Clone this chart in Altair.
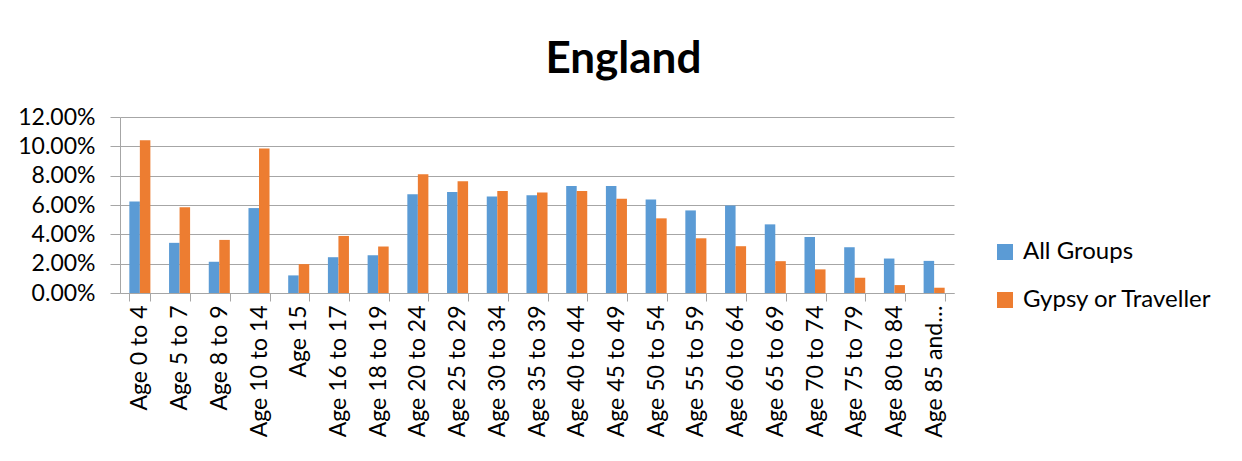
import altair as alt
import pandas as pd

categories = ["Age 0 to 4", "Age 5 to 7", "Age 8 to 9", "Age 10 to 14", "Age 15",
              "Age 16 to 17", "Age 18 to 19", "Age 20 to 24", "Age 25 to 29", "Age 30 to 34",
              "Age 35 to 39", "Age 40 to 44", "Age 45 to 49", "Age 50 to 54", "Age 55 to 59",
              "Age 60 to 64", "Age 65 to 69", "Age 70 to 74", "Age 75 to 79", "Age 80 to 84",
              "Age 85 and…"]
all_groups = [6.24, 3.42, 2.13, 5.79, 1.20, 2.44, 2.58, 6.74, 6.88, 6.58,
              6.67, 7.29, 7.29, 6.38, 5.63, 5.97, 4.68, 3.82, 3.12, 2.35, 2.19]
gypsy = [10.41, 5.84, 3.62, 9.86, 1.97, 3.89, 3.17, 8.10, 7.62, 6.95,
         6.86, 6.95, 6.43, 5.09, 3.73, 3.19, 2.17, 1.61, 1.04, 0.54, 0.36]
series = ["All Groups", "Gypsy or Traveller"]
colors = ["#5B9BD5", "#ED7D31"]
y_ticks = [0, 2, 4, 6, 8, 10, 12]

rows = []
for c, a, g in zip(categories, all_groups, gypsy):
    rows.append({"cat": c, "series": series[0], "value": a})
    rows.append({"cat": c, "series": series[1], "value": g})
df = pd.DataFrame(rows)

FONT = "Lato"

chart = alt.Chart(df).mark_bar().encode(
    x=alt.X("cat:N", sort=categories, title=None,
            scale=alt.Scale(paddingInner=0.47, paddingOuter=0.235),
            axis=alt.Axis(labelAngle=-90, labelFontSize=23, labelFont=FONT, labelColor="black",
                          tickBand="extent", tickSize=8, tickColor="#a6a6a6",
                          domainColor="#a6a6a6", labelPadding=4, labelLimit=300,
                          grid=False)),
    xOffset=alt.XOffset("series:N", sort=series, scale=alt.Scale(paddingInner=0, paddingOuter=0)),
    y=alt.Y("value:Q", title=None, scale=alt.Scale(domain=[0, 12], nice=False),
            axis=alt.Axis(values=y_ticks, labelExpr="format(datum.value, '.2f') + '%'",
                          labelFontSize=23, labelFont=FONT, labelColor="black",
                          tickSize=10, tickColor="#a6a6a6", domainColor="#a6a6a6",
                          gridColor="#a6a6a6", labelPadding=15)),
    color=alt.Color("series:N", sort=series, scale=alt.Scale(domain=series, range=colors),
                    legend=alt.Legend(title=None, orient="none", legendX=873, legendY=123,
                                      symbolType="square", symbolSize=256, symbolStrokeWidth=0,
                                      labelFontSize=24, labelFont=FONT, labelColor="black",
                                      labelLimit=400,
                                      rowPadding=24, symbolOffset=0, labelOffset=6)),
).properties(
    width=834, height=176,
    title=alt.TitleParams("England", fontSize=44, font=FONT, fontWeight="bold", color="black",
                          anchor="middle", frame="bounds", offset=24, dx=8),
    padding={"left": 9, "top": 30, "right": 5, "bottom": 5},
).configure_view(stroke=None)

chart.save("out.html", embed_options={"renderer": "svg", "actions": False})
